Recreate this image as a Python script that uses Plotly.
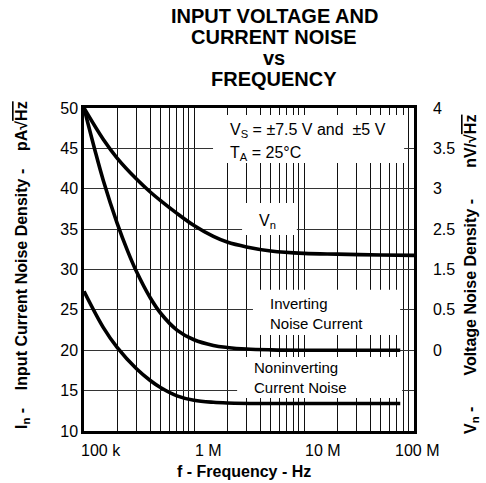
import math
import plotly.graph_objects as go

# ---------------- data ----------------
vn_freq = [1e5, 1.5e5, 2e5, 3e5, 4e5, 5e5, 7e5, 1e6, 1.5e6, 2e6, 3e6, 5e6, 1e7, 2e7, 5e7, 1e8]
vn_vals = [50, 46.1, 43.8, 41.2, 39.6, 38.5, 36.95, 35.45, 34.1, 33.4, 32.8, 32.3, 32.0, 31.9, 31.8, 31.75]

inv_freq = [1e5, 1.25e5, 1.5e5, 2e5, 2.5e5, 3e5, 4e5, 5e5, 7e5, 1e6, 1.5e6, 2e6, 3e6, 5e6, 1e7, 7.5e7]
inv_vals = [50, 44.9, 41.0, 35.75, 32.25, 29.75, 26.5, 24.55, 22.5, 21.3, 20.6, 20.35, 20.15, 20.05, 20.0, 20.0]

noninv_freq = [1e5, 1.5e5, 2e5, 3e5, 4e5, 5e5, 7e5, 1e6, 1.5e6, 2e6, 5e6, 1e7, 7.5e7]
noninv_vals = [27.3, 22.8, 20.35, 17.7, 16.25, 15.35, 14.35, 13.8, 13.55, 13.47, 13.4, 13.4, 13.4]

x_major = [1e5, 1e6, 1e7, 1e8]
x_major_labels = ["100 k", "1 M", "10 M", "100 M"]

left_ticks = [10, 15, 20, 25, 30, 35, 40, 45, 50]
right_tickvals = [50, 45, 40, 35, 30, 25, 20]
right_ticktext = ["4", "3.5", "3", "2.5", "1.5", "0.5", "0"]

title_lines = ["INPUT VOLTAGE AND", "CURRENT NOISE", "vs", "FREQUENCY"]

# ---------------- figure ----------------
FONT = "Liberation Sans, Arial, sans-serif"
grid_vals = [k * 10 ** n for n in range(5, 8) for k in range(1, 10)] + [1e8]

fig = go.Figure()
line_style = dict(color="black", width=3.6, shape="spline", smoothing=1.0)
fig.add_trace(go.Scatter(x=vn_freq, y=vn_vals, mode="lines", line=line_style,
                         yaxis="y2", name="Vn", showlegend=False))
fig.add_trace(go.Scatter(x=inv_freq, y=inv_vals, mode="lines", line=line_style,
                         name="Inverting", showlegend=False))
fig.add_trace(go.Scatter(x=noninv_freq, y=noninv_vals, mode="lines", line=line_style,
                         name="Noninverting", showlegend=False))

fig.update_layout(
    width=486, height=483,
    margin=dict(l=84, r=72, t=108, b=52, autoexpand=False),
    paper_bgcolor="white", plot_bgcolor="white",
    font=dict(family=FONT, color="black", size=16),
    hovermode=False,
    xaxis=dict(type="log", range=[5, 8], tickvals=grid_vals, showticklabels=False,
               ticks="", showgrid=True, gridcolor="#111", gridwidth=1,
               showline=True, linecolor="black", linewidth=2.5, mirror=True,
               zeroline=False, automargin=False),
    yaxis=dict(range=[10, 50], tickvals=left_ticks, ticks="", showgrid=True,
               gridcolor="#333", gridwidth=1, showline=True, linecolor="black",
               linewidth=2.5, mirror=True, zeroline=False, automargin=False,
               tickfont=dict(size=16, family=FONT)),
    yaxis2=dict(range=[10, 50], overlaying="y", side="right", tickvals=right_tickvals,
                ticktext=right_ticktext, ticks="", showgrid=False, showline=True,
                linecolor="black", linewidth=2.5, zeroline=False, automargin=False,
                ticklabelstandoff=13, tickfont=dict(size=16, family=FONT)),
)

# white masks behind the in-plot labels (paper coordinates of the plot area)
for x0, x1, y0, y1 in [(0.391, 0.970, 0.830, 0.978), (0.479, 0.645, 0.607, 0.706),
                       (0.512, 0.958, 0.297, 0.437), (0.464, 0.964, 0.102, 0.229)]:
    fig.add_shape(type="rect", xref="paper", yref="paper", x0=x0, x1=x1, y0=y0, y1=y1,
                  fillcolor="white", line=dict(width=0), layer="above")

ann = []

def label(text, x, y, size=16):
    ann.append(dict(x=x, y=y, xref="paper", yref="paper", text=text, showarrow=False,
                    xanchor="left", yanchor="middle", align="left",
                    font=dict(size=size, family=FONT, color="black")))

label("V<sub>S</sub> = ±7.5 V and \u00a0±5 V", 0.436, 0.930)
label("T<sub>A</sub> = 25°C", 0.436, 0.860)
label("V<sub>n</sub>", 0.524, 0.650)
label("Inverting<br>Noise Current", 0.558, 0.364, size=15)
label("Noninverting<br>Current Noise", 0.509, 0.166, size=15)

# title, one annotation per line
for t, yy in zip(title_lines, [1.2833, 1.2183, 1.1548, 1.0913]):
    ann.append(dict(x=0.5758, y=yy, xref="paper", yref="paper", text="<b>" + t + "</b>",
                    showarrow=False, xanchor="center", yanchor="middle",
                    font=dict(size=20, family=FONT, color="black")))

# x tick labels
for v, t, s in zip(x_major, x_major_labels, [17, 14, 19, 3]):
    ann.append(dict(x=math.log10(v), y=0, xref="x", yref="paper", text=t,
                    showarrow=False, xanchor="center", yanchor="middle",
                    xshift=s, yshift=-19, font=dict(size=16, family=FONT)))

# axis titles
sp = "\u00a0\u00a0\u00a0"
ann.append(dict(x=0.5, y=0, xref="paper", yref="paper", text="<b>f - Frequency - Hz</b>",
                showarrow=False, xanchor="center", yanchor="middle", xshift=-5, yshift=-40,
                font=dict(size=16, family=FONT)))
ann.append(dict(x=0, y=0.514, xref="paper", yref="paper", textangle=-90,
                text="<b>I<sub>n</sub> -" + sp + " Input Current Noise Density -" + sp
                     + " pA√<span style='text-decoration:overline'>Hz</span></b>",
                showarrow=False, xanchor="center", yanchor="middle", xshift=-61,
                font=dict(size=16, family=FONT)))
ann.append(dict(x=1, y=0.483, xref="paper", yref="paper", textangle=-90,
                text="<b>V<sub>n</sub> -" + sp + sp + " Voltage Noise Density -" + sp + sp
                     + " nV/√<span style='text-decoration:overline'>Hz</span></b>",
                showarrow=False, xanchor="center", yanchor="middle", xshift=58,
                font=dict(size=16, family=FONT)))

fig.update_layout(annotations=ann)
fig.write_html("out.html", config={"displayModeBar": False},
               post_script="document.body.style.margin='0px';")
